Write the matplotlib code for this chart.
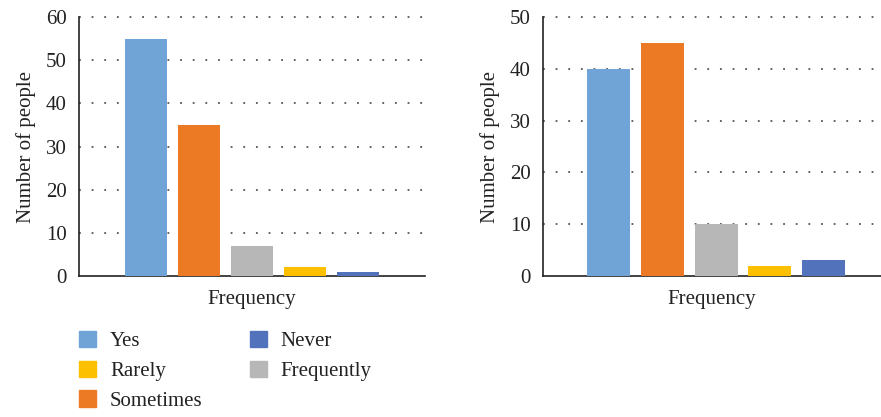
import matplotlib
matplotlib.use("Agg")
import matplotlib.pyplot as plt
from matplotlib.patches import Patch

plt.rcParams["font.family"] = ["Liberation Serif", "DejaVu Serif"]

categories = ["Yes", "Sometimes", "Frequently", "Rarely", "Never"]
colors = ["#71A4D6", "#EC7A24", "#B7B7B7", "#FCC000", "#5273BB"]
left_counts = [55, 35, 7, 2, 1]
right_counts = [40, 45, 10, 2, 3]
left_ticks = [0, 10, 20, 30, 40, 50, 60]
right_ticks = [0, 10, 20, 30, 40, 50]

FS = 15

fig = plt.figure(figsize=(8.81, 4.17), dpi=100)
ax1 = fig.add_axes([0.0897, 0.3381, 0.3927, 0.6211])
ax2 = fig.add_axes([0.6163, 0.3381, 0.3837, 0.6211])


def draw(ax, counts, ticks, xlim):
    x = list(range(len(counts)))
    ax.bar(x, counts, width=0.8, color=colors, zorder=3)
    ax.set_xlim(*xlim)
    ax.set_ylim(ticks[0], ticks[-1])
    ax.set_yticks(ticks)
    ax.set_xticks([])
    for t in ticks[1:]:
        ax.axhline(t, color="#555555", linestyle=(0, (1, 6)), linewidth=1.3, zorder=1,
                   clip_on=False)
    for side in ["top", "right"]:
        ax.spines[side].set_visible(False)
    for side in ["left", "bottom"]:
        ax.spines[side].set_color("#222222")
        ax.spines[side].set_linewidth(1.2)
    ax.tick_params(axis="y", length=0, pad=9, labelsize=FS, colors="#222222")
    ax.set_ylabel("Number of people", fontsize=FS, color="#222222", labelpad=7)
    ax.set_xlabel("Frequency", fontsize=FS, color="#222222", labelpad=10)


draw(ax1, left_counts, left_ticks, (-1.27, 5.27))
draw(ax2, right_counts, right_ticks, (-1.22, 5.07))

# legend laid out column by column
order = ["Yes", "Rarely", "Sometimes", "Never", "Frequently"]
handles = [Patch(color=colors[categories.index(c)]) for c in order]
fig.legend(handles, order, loc="upper left", bbox_to_anchor=(79 / 881, 1 - 331 / 417),
           ncol=2, frameon=False, fontsize=FS, handlelength=0.82, handleheight=0.82,
           handletextpad=0.67, columnspacing=2.25, labelspacing=0.45, borderpad=0,
           borderaxespad=0, labelcolor="#222222")

fig.savefig("out.png", dpi=100)
